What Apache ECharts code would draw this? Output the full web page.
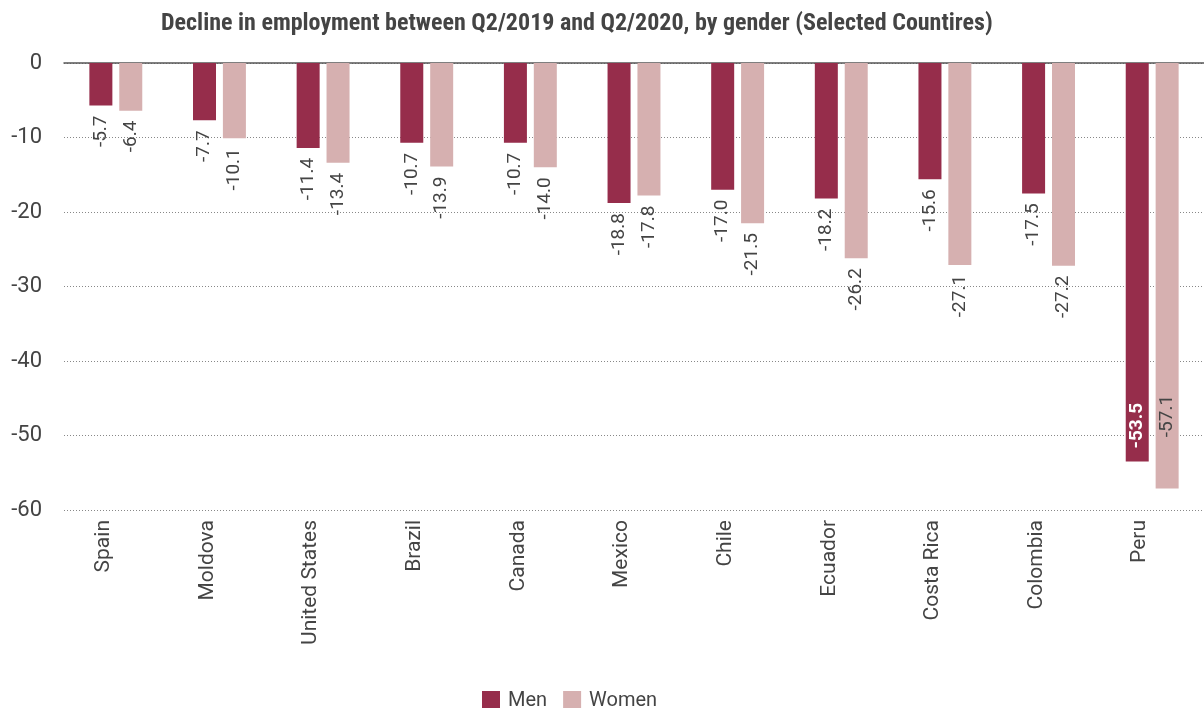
<!DOCTYPE html>
<html>
<head>
<meta charset="utf-8">
<script src="https://cdn.jsdelivr.net/npm/echarts@6/dist/echarts.min.js"></script>
<style>
  html, body { margin: 0; padding: 0; background: #fff; }
  #chart { width: 1204px; height: 708px; }
</style>
</head>
<body>
<div id="chart"></div>
<script>
// data
const countries = ['Spain', 'Moldova', 'United States', 'Brazil', 'Canada', 'Mexico', 'Chile', 'Ecuador', 'Costa Rica', 'Colombia', 'Peru'];
const men = [-5.7, -7.7, -11.4, -10.7, -10.7, -18.8, -17.0, -18.2, -15.6, -17.5, -53.5];
const women = [-6.4, -10.1, -13.4, -13.9, -14.0, -17.8, -21.5, -26.2, -27.1, -27.2, -57.1];

const menColor = '#962d4b';
const womenColor = '#d6b0b0';
const textColor = '#444';

const myChart = echarts.init(document.getElementById('chart'));

// the Peru bars are too long for an outside label, so put it inside
function withLabels(values, insideLabel) {
    return values.map((v, i) => {
        if (i !== values.length - 1) return v;
        return { value: v, label: insideLabel };
    });
}

const option = {
    animation: false,
    textStyle: { fontFamily: 'Roboto' },
    title: {
        text: 'Decline in employment between Q2/2019 and Q2/2020, by gender (Selected Countires)',
        left: 156,
        top: 7,
        textStyle: {
            fontFamily: "'Roboto Condensed', 'DejaVu Sans Condensed', 'Liberation Sans Narrow', Roboto",
            fontWeight: 'bold',
            fontSize: 24,
            color: textColor
        }
    },
    legend: {
        left: 477,
        top: 686,
        icon: 'rect',
        itemWidth: 18,
        itemHeight: 20,
        itemGap: 16,
        textStyle: { fontSize: 20, color: textColor, padding: [0, 0, 0, 3] },
        data: ['Men', 'Women']
    },
    grid: {
        left: 64,
        right: -2,
        top: 63,
        bottom: 198
    },
    xAxis: [
        {
            type: 'category',
            data: countries,
            position: 'bottom',
            axisLine: { show: false, onZero: false },
            axisTick: { show: false },
            axisLabel: {
                interval: 0,
                rotate: 90,
                margin: 10,
                fontSize: 21,
                color: textColor,
                // sits the rotated text a little left of the tick
                verticalAlign: 'bottom',
                lineHeight: 24
            }
        },
        {
            // zero line at the top
            type: 'category',
            data: countries,
            position: 'top',
            axisLine: { show: true, onZero: false, lineStyle: { color: '#555', width: 1.5 } },
            axisTick: { show: false },
            axisLabel: { show: false }
        }
    ],
    yAxis: {
        type: 'value',
        min: -60,
        max: 0,
        interval: 10,
        axisLine: { show: false },
        axisTick: { show: false },
        axisLabel: { fontSize: 22, color: textColor, margin: 22 },
        splitLine: { lineStyle: { type: [1, 2], color: '#888', width: 1 } }
    },
    series: [
        {
            name: 'Men',
            type: 'bar',
            barWidth: 23,
            barGap: '30%',
            itemStyle: { color: menColor },
            label: {
                show: true,
                position: 'bottom',
                rotate: 90,
                align: 'right',
                verticalAlign: 'middle',
                distance: 10,
                fontSize: 19,
                color: textColor,
                formatter: p => p.value.toFixed(1)
            },
            data: withLabels(men, {
                position: ['50%', '91%'],
                align: 'center',
                verticalAlign: 'middle',
                color: '#fff',
                fontWeight: 'bold'
            })
        },
        {
            name: 'Women',
            type: 'bar',
            barWidth: 23,
            itemStyle: { color: womenColor },
            label: {
                show: true,
                position: 'bottom',
                rotate: 90,
                align: 'right',
                verticalAlign: 'middle',
                distance: 10,
                fontSize: 19,
                color: textColor,
                formatter: p => p.value.toFixed(1)
            },
            data: withLabels(women, {
                position: ['50%', '83%'],
                align: 'center',
                verticalAlign: 'middle'
            })
        }
    ]
};

myChart.setOption(option);
window.addEventListener('resize', () => myChart.resize());
</script>
</body>
</html>
